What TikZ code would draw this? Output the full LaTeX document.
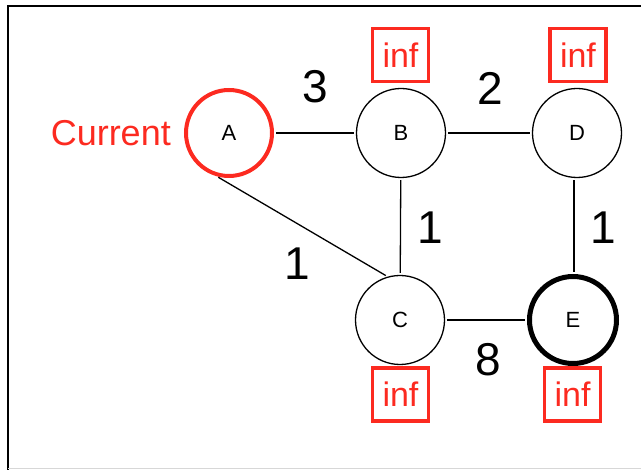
\documentclass[tikz,border=0pt]{standalone}
\usepackage{fontspec}
\setmainfont{Liberation Sans}
\definecolor{curred}{RGB}{252,42,32}
\definecolor{framegrey}{RGB}{215,215,215}
\begin{document}
\begin{tikzpicture}[x=1pt,y=-1pt,
  vertex/.style={circle,draw=black,line width=1.3pt,minimum size=89pt,inner sep=0pt,
    font=\fontsize{22}{24}\selectfont},
  current/.style={vertex,draw=curred,line width=4pt,minimum size=86pt},
  target/.style={vertex,line width=5pt,minimum size=87pt},
  infbox/.style={draw=curred,line width=3.5pt,minimum width=56pt,minimum height=53pt,
    inner sep=0pt,text=curred,font=\fontsize{34}{36}\selectfont},
  weight/.style={font=\fontsize{46}{48}\selectfont,inner sep=0pt},
  edge/.style={line width=1.3pt,shorten <=2pt,shorten >=2pt}]
\useasboundingbox (0,0) rectangle (641,470);
% frame
\draw[line width=2pt] (8,470) -- (8,6) -- (641,6);
\draw[framegrey,line width=1.5pt] (8,468.5) -- (641,468.5);
% nodes
\node[current] (A) at (229,133) {A};
\node[vertex]  (B) at (401,133) {B};
\node[vertex]  (D) at (577,133) {D};
\node[vertex]  (C) at (400,320) {C};
\node[target]  (E) at (573,320) {E};
% labels
\node[text=curred,font=\fontsize{36}{38}\selectfont,anchor=east,inner sep=0pt] (cur) at (171,133) {Current};
\node[infbox] (iB) at (400.5,55) {inf};
\node[infbox] (iD) at (578,55) {inf};
\node[infbox] (iC) at (400.5,394.5) {inf};
\node[infbox] (iE) at (572.5,394.5) {inf};
% edges
\draw[edge] (A) -- (B);
\draw[edge] (B) -- (D);
\draw[edge] (B) -- (C);
\draw[edge] (D.266) -- (D.266 |- E.north);
\draw[edge] (C) -- (E);
\draw[edge] (A.254) -- (C.106);
% weights
\node[weight] (w3) at (315,87) {3};
\node[weight] (w2) at (490,88) {2};
\node[weight] (w1a) at (430,228) {1};
\node[weight] (w1b) at (603,228) {1};
\node[weight] (w1c) at (297,264) {1};
\node[weight] (w8) at (488,360) {8};
\end{tikzpicture}
\end{document}
